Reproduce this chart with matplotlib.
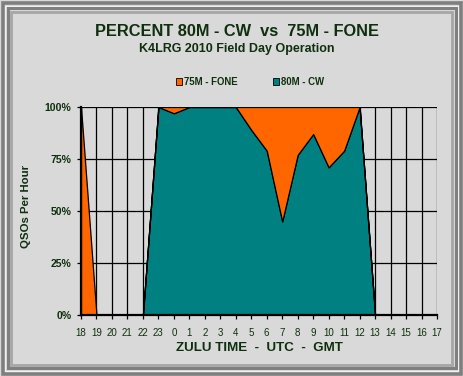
import numpy as np
import matplotlib.pyplot as plt
from matplotlib.patches import Rectangle, Patch

plt.rcParams['font.family'] = ['Liberation Sans', 'DejaVu Sans']

# hours of the operation, 18z through 17z next day
hours = ['18', '19', '20', '21', '22', '23', '0', '1', '2', '3', '4', '5',
         '6', '7', '8', '9', '10', '11', '12', '13', '14', '15', '16', '17']
cw_pct = [0, 0, 0, 0, 0, 100, 97, 100, 100, 100, 100, 89,
          79, 45, 77, 87, 71, 79, 100, 0, 0, 0, 0, 0]
fone_pct = [100, 0, 0, 0, 0, 0, 3, 0, 0, 0, 0, 11,
            21, 55, 23, 13, 29, 21, 0, 0, 0, 0, 0, 0]
yticks = [0, 25, 50, 75, 100]

bg = '#d9d9d9'
txt = '#0f2f0f'
orange = '#ff6600'
teal = '#008080'

fig = plt.figure(figsize=(4.64, 3.76), dpi=100)
fig.patch.set_facecolor(bg)

# double grey frame around the chart
W, H = 464, 376
def frame(x0, y0, w, h, col, lw):
    fig.patches.append(Rectangle((x0 / W, y0 / H), w / W, h / H, transform=fig.transFigure,
                                 fill=False, edgecolor=col, linewidth=lw))
frame(2.5, 2.5, 459, 371, '#7f7f7f', 2.6)
frame(5.5, 5.5, 453, 365, '#f2f2f2', 0.8)
frame(8, 8, 448, 360, '#808080', 2.2)
frame(11.5, 11.5, 441, 353, '#a6a6a6', 2.0)

ax = fig.add_axes([81 / W, 1 - 315 / H, (437 - 81) / W, (315 - 107) / H])
ax.set_facecolor(bg)

x = np.arange(len(hours))
ax.stackplot(x, cw_pct, fone_pct, colors=[teal, orange],
             edgecolor='black', linewidth=0.9, zorder=3)

ax.set_xlim(0, len(hours) - 1)
ax.set_ylim(0, 100)
ax.set_xticks(x)
ax.set_xticklabels(hours, fontsize=7, color=txt)
ax.set_yticks(yticks)
ax.set_yticklabels([f'{v}%' for v in yticks], fontsize=7.6, color=txt, fontweight='bold')
ax.grid(True, color='black', linewidth=0.9, zorder=1)
ax.set_axisbelow(True)
ax.tick_params(axis='both', direction='out', length=3, width=0.9, color='black')
ax.tick_params(axis='x', pad=6)
ax.tick_params(axis='y', pad=4)

for s in ['top', 'right']:
    ax.spines[s].set_visible(False)
for s in ['left', 'bottom']:
    ax.spines[s].set_linewidth(1.6)
    ax.spines[s].set_zorder(5)

ax.set_xlabel('ZULU TIME  -  UTC  -  GMT', fontsize=9.6, fontweight='bold', color=txt, labelpad=3)
fig.text(26 / W, 1 - 206 / H, 'QSOs Per Hour', rotation=90, ha='center', va='center',
         fontsize=8.2, fontweight='bold', color=txt)

fig.text(237 / W, 1 - 31 / H, 'PERCENT 80M - CW  vs  75M - FONE', ha='center', va='center',
         fontsize=11.8, fontweight='bold', color=txt)
fig.text(237 / W, 1 - 49 / H, 'K4LRG 2010 Field Day Operation', ha='center', va='center',
         fontsize=9, fontweight='bold', color=txt)

handles = [Patch(facecolor=orange, edgecolor='black', linewidth=0.6, label='75M - FONE'),
           Patch(facecolor=teal, edgecolor='black', linewidth=0.6, label='80M - CW')]
leg = fig.legend(handles=handles, loc='center', bbox_to_anchor=(250 / W, 1 - 82 / H), ncol=2,
                 frameon=False, fontsize=6.9, handlelength=0.7, handleheight=0.7,
                 handletextpad=0.2, columnspacing=3.6)
for t in leg.get_texts():
    t.set_fontweight('bold')
    t.set_color(txt)

fig.savefig('out.png', dpi=100, facecolor=bg)
